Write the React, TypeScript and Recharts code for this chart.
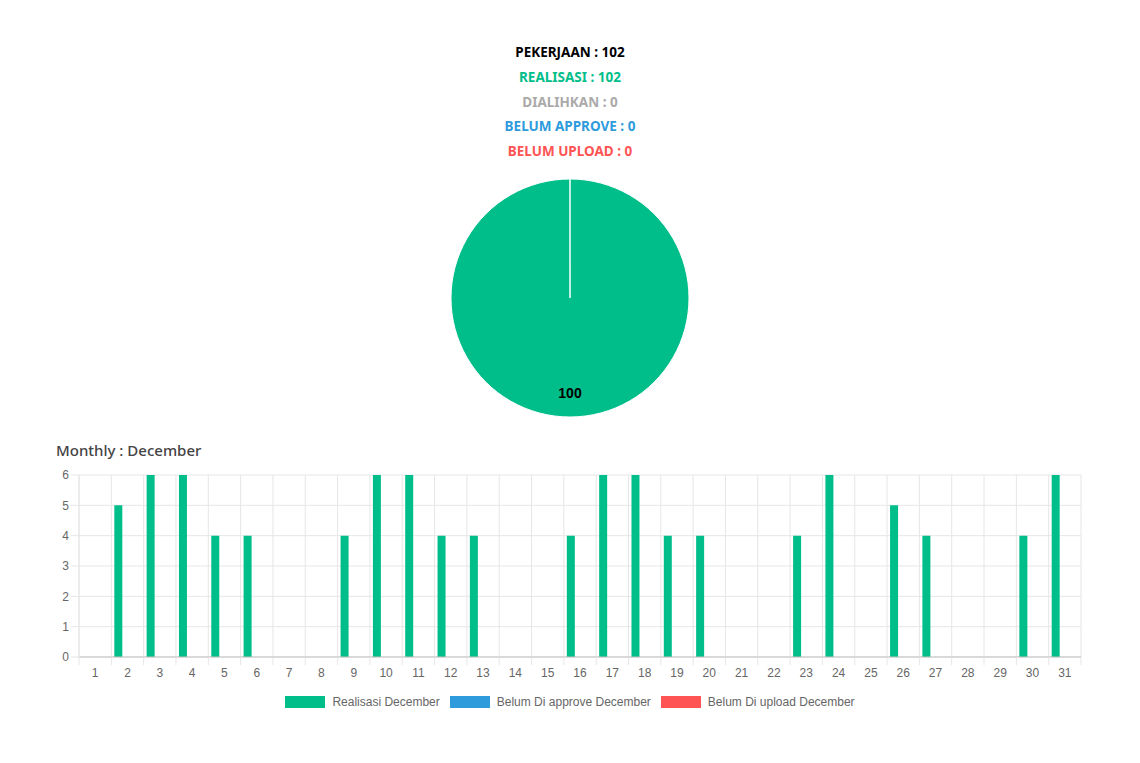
import React from 'react';
import { BarChart, Bar, XAxis, YAxis, CartesianGrid, PieChart, Pie, Cell } from 'recharts';

// status summary
const TOTAL_LABEL = 'PEKERJAAN';
const TOTAL_VALUE = 102;
const STATUS_LABELS = ['REALISASI', 'DIALIHKAN', 'BELUM APPROVE', 'BELUM UPLOAD'];
const STATUS_VALUES = [102, 0, 0, 0];
const STATUS_COLORS = ['#00BE8A', '#AAAAAA', '#2E9BDC', '#FF5454'];

// monthly bars
const MONTH = 'December';
const DAYS = Array.from({ length: 31 }, (_, i) => String(i + 1));
const REALISASI = [0, 5, 6, 6, 4, 4, 0, 0, 4, 6, 6, 4, 4, 0, 0, 4, 6, 6, 4, 4, 0, 0, 4, 6, 0, 5, 4, 0, 0, 4, 6];
const BELUM_APPROVE = [0, 0, 0, 0, 0, 0, 0, 0, 0, 0, 0, 0, 0, 0, 0, 0, 0, 0, 0, 0, 0, 0, 0, 0, 0, 0, 0, 0, 0, 0, 0];
const BELUM_UPLOAD = [0, 0, 0, 0, 0, 0, 0, 0, 0, 0, 0, 0, 0, 0, 0, 0, 0, 0, 0, 0, 0, 0, 0, 0, 0, 0, 0, 0, 0, 0, 0];
const Y_TICKS = [0, 1, 2, 3, 4, 5, 6];

const SERIES = [
  { key: 'realisasi', name: `Realisasi ${MONTH}`, color: '#00BE8A' },
  { key: 'approve', name: `Belum Di approve ${MONTH}`, color: '#2E9BDC' },
  { key: 'upload', name: `Belum Di upload ${MONTH}`, color: '#FF5454' },
];

const barData = DAYS.map((d, i) => ({
  day: d,
  realisasi: REALISASI[i],
  approve: BELUM_APPROVE[i],
  upload: BELUM_UPLOAD[i],
}));

const pieData = STATUS_LABELS.map((l, i) => ({ name: l, value: STATUS_VALUES[i] }));

const CHART_W = 1140;
const Y_AXIS_W = 79;
const MARGIN_R = 59;
const PLOT_W = CHART_W - Y_AXIS_W - MARGIN_R;
const BAND = PLOT_W / DAYS.length;
const GRID = '#e6e6e6';
const TICK_COLOR = '#666';
const ARIAL = '"Liberation Sans", Arial, sans-serif';
const RAD = Math.PI / 180;

function DayTick(props: any) {
  const { x, y, payload, index } = props;
  const left = x - BAND / 2;
  return (
    <g>
      <line x1={left} x2={left} y1={y - 10} y2={y - 2} stroke={GRID} />
      {index === DAYS.length - 1 && (
        <line x1={x + BAND / 2} x2={x + BAND / 2} y1={y - 10} y2={y - 2} stroke={GRID} />
      )}
      <text x={x} y={y} dy={10} textAnchor="middle" fill={TICK_COLOR} fontSize={12} fontFamily={ARIAL}>
        {payload.value}
      </text>
    </g>
  );
}

function pieLabel(props: any) {
  const { cx, cy, midAngle, outerRadius, percent, value } = props;
  if (!value) return null;
  const r = outerRadius * 0.8;
  const x = cx + r * Math.cos(-midAngle * RAD);
  const y = cy + r * Math.sin(-midAngle * RAD);
  return (
    <text x={x} y={y} textAnchor="middle" dominantBaseline="central" fill="#000" fontSize={14} fontWeight="bold" fontFamily={ARIAL}>
      {Math.round(percent * 100)}
    </text>
  );
}

export default function App() {
  return (
    <div style={{ position: 'absolute', left: 0, top: 0, width: 1140, height: 763, background: '#fff', fontFamily: '"Noto Sans", sans-serif' }}>
      {/* header */}
      <div style={{ position: 'absolute', top: 40, left: 0, width: 1140, textAlign: 'center', fontWeight: 700, fontSize: 13.5, lineHeight: '24.8px' }}>
        <div style={{ color: '#000' }}>{TOTAL_LABEL} : {TOTAL_VALUE}</div>
        {STATUS_LABELS.map((l, i) => (
          <div key={l} style={{ color: STATUS_COLORS[i] }}>
            {l} : {STATUS_VALUES[i]}
          </div>
        ))}
      </div>

      <div style={{ position: 'absolute', left: 440, top: 168 }}>
        <PieChart width={260} height={260} margin={{ top: 0, right: 0, bottom: 0, left: 0 }}>
          <Pie
            data={pieData}
            dataKey="value"
            nameKey="name"
            cx={130}
            cy={130}
            outerRadius={119}
            startAngle={90}
            endAngle={-270}
            stroke="#fff"
            strokeWidth={1}
            label={pieLabel}
            labelLine={false}
            isAnimationActive={false}
          >
            {pieData.map((d, i) => (
              <Cell key={d.name} fill={STATUS_COLORS[i]} />
            ))}
          </Pie>
        </PieChart>
      </div>

      <div style={{ position: 'absolute', left: 56, top: 440, fontSize: 15, color: '#444', fontWeight: 500 }}>
        Monthly : {MONTH}
      </div>

      <div style={{ position: 'absolute', left: 0, top: 465 }}>
        <BarChart
          width={CHART_W}
          height={222}
          data={barData}
          margin={{ top: 10, right: MARGIN_R, left: 0, bottom: 0 }}
          barSize={8}
          barGap={1}
          barCategoryGap="10%"
        >
          <CartesianGrid
            stroke={GRID}
            verticalCoordinatesGenerator={({ offset }: any) =>
              Array.from({ length: DAYS.length + 1 }, (_, i) => offset.left + (i * offset.width) / DAYS.length)
            }
          />
          <XAxis
            dataKey="day"
            height={30}
            tickLine={false}
            tickSize={8}
            tickMargin={2}
            axisLine={{ stroke: '#bfbfbf' }}
            tick={<DayTick />}
            interval={0}
          />
          <YAxis
            width={Y_AXIS_W}
            domain={[0, 6]}
            ticks={Y_TICKS}
            tickSize={8}
            tickLine={{ stroke: GRID }}
            axisLine={{ stroke: GRID }}
            tick={{ fill: TICK_COLOR, fontSize: 12, fontFamily: ARIAL }}
          />
          {SERIES.map((s) => (
            <Bar key={s.key} dataKey={s.key} name={s.name} fill={s.color} isAnimationActive={false} />
          ))}
        </BarChart>
      </div>

      <div style={{ position: 'absolute', top: 695, left: 0, width: 1140, display: 'flex', justifyContent: 'center', fontFamily: ARIAL, fontSize: 12, color: TICK_COLOR }}>
        {SERIES.map((s) => (
          <div key={s.key} style={{ display: 'flex', alignItems: 'center', margin: '0 5px' }}>
            <span style={{ display: 'inline-block', width: 40, height: 12, background: s.color, marginRight: 7 }} />
            <span>{s.name}</span>
          </div>
        ))}
      </div>
    </div>
  );
}
